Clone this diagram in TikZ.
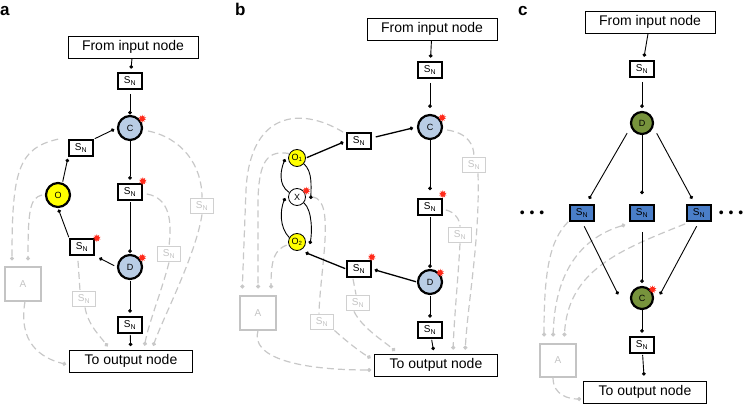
\documentclass[tikz,border=0pt]{standalone}
\usepackage{fontspec}
\setmainfont{Liberation Sans}
\usetikzlibrary{arrows.meta,shapes.geometric}
\definecolor{cellblue}{HTML}{B9CDE5}
\definecolor{cellyellow}{HTML}{FFFF00}
\definecolor{cellgreen}{HTML}{77933C}
\definecolor{snblue}{HTML}{4A7EC8}
\definecolor{dashgrey}{HTML}{C8C8C8}
\definecolor{boxgrey}{HTML}{C4C4C4}
\definecolor{burstred}{HTML}{FF2A1A}
\tikzset{
  lbl/.style={anchor=base west, inner sep=0pt, font=\fontsize{17}{19}\selectfont\bfseries},
  iobox/.style={draw, line width=0.8pt, fill=white, minimum width=130pt, minimum height=22pt, inner sep=0pt, font=\fontsize{14}{16}\selectfont},
  snbox/.style={draw, line width=2.2pt, fill=white, minimum width=23.5pt, minimum height=15.5pt, inner sep=0pt, font=\fontsize{10}{12}\selectfont},
  snfill/.style={snbox, fill=snblue},
  sngrey/.style={snbox, draw=boxgrey!80, line width=1.4pt, text=boxgrey},
  abox/.style={draw=boxgrey, line width=2pt, minimum width=36pt, minimum height=33pt, inner sep=0pt, text=boxgrey, font=\fontsize{10}{12}\selectfont},
  cell/.style={circle, draw, line width=2.2pt, minimum size=24pt, inner sep=0pt, font=\fontsize{9}{11}\selectfont},
  smallcell/.style={circle, draw, line width=0.8pt, minimum size=17pt, inner sep=0pt, font=\fontsize{9}{11}\selectfont},
  burst/.style={star, star points=10, star point ratio=1.9, fill=burstred, minimum size=8pt, inner sep=0pt},
  conn/.style={-{Circle[length=3.6pt]}, line width=0.9pt, shorten >=3.5pt, shorten <=1pt},
  gline/.style={draw=dashgrey, line width=1.2pt, dash pattern=on 7pt off 4pt},
  gconn/.style={gline, -{Circle[length=4pt]}, shorten >=4pt},
}
\newcommand{\sn}{S\textsubscript{N}}
\begin{document}
\begin{tikzpicture}[x=1pt,y=-1pt]
\useasboundingbox (0,0) rectangle (746,411);

%% panel a
\node[lbl] at (0,16) {a};
\node[iobox] (ina) at (133,47) {From input node};
\node[snbox] (sa1) at (130,81) {\sn};
\node[cell, fill=cellblue] (ca) at (130,128) {C};
\node[snbox] (sa2) at (81,148) {\sn};
\node[cell, fill=cellyellow] (oa) at (58,195) {O};
\node[snbox] (sa4) at (130,192) {\sn};
\node[snbox] (sa3) at (82,247) {\sn};
\node[cell, fill=cellblue] (da) at (130,267) {D};
\node[snbox] (sa5) at (130,325) {\sn};
\node[iobox, minimum width=123pt] (outa) at (131,361) {To output node};
\node[abox] (aa) at (23,284) {A};
\node[sngrey] (ga1) at (202,206) {\sn};
\node[sngrey] (ga2) at (169,254) {\sn};
\node[sngrey] (ga3) at (84,299) {\sn};
%% a: grey links
\draw[gline] ([shift={(5pt,-3pt)}]ca.east) .. controls (182,138) and (202,165) .. (ga1.north);
\draw[gconn] (ga1.south) .. controls (196,255) and (162,320) .. ([xshift=21pt]outa.north);
\draw[gline] ([shift={(4pt,-2pt)}]sa4.east) .. controls (170,198) and (172,222) .. (ga2.north);
\draw[gconn] (ga2.south) .. controls (162,290) and (148,325) .. ([xshift=13pt]outa.north);
\draw[gconn, shorten >=6pt] ([xshift=-10pt]sa2.north west) .. controls (18,148) and (12,172) .. ([xshift=-11pt]aa.north);
\draw[gconn, shorten >=6pt] ([xshift=-3pt]oa.west) .. controls (30,198) and (28,210) .. ([xshift=5pt]aa.north);
\draw[gline] ([xshift=-4pt,yshift=-5pt]sa3.south) -- ([xshift=-4pt]ga3.north);
\draw[gconn] ([xshift=1pt]ga3.south) .. controls (88,325) and (100,336) .. ([xshift=-21pt]outa.north);
\draw[gconn, shorten >=3pt] ([xshift=2pt]aa.south) .. controls (18,342) and (40,358) .. ([yshift=-4pt]outa.west);
%% a: links
\draw[conn, shorten <=0pt] (ina) -- (sa1);
\draw[conn, shorten >=0.5pt, shorten <=4pt] (sa1) -- (ca);
\draw[conn, shorten >=3pt] (sa2.north east) -- (ca.west);
\draw[conn, shorten >=2pt] (oa.70) -- (sa2.south west);
\draw[conn, shorten >=1.5pt] (sa3.north west) -- (oa.south);
\draw[conn, shorten >=5pt, shorten <=3pt] (da.west) -- (sa3.south east);
\draw[conn, shorten <=0pt] (ca) -- (sa4);
\draw[conn, shorten >=1pt] (sa4) -- (da);
\draw[conn] (da) -- (sa5);
\draw[conn] (sa5) -- (outa);
\node[burst] at ([xshift=3pt]ca.north east) {};
\node[burst] at ([yshift=2pt]sa4.north east) {};
\node[burst] at ([xshift=2pt]sa3.north east) {};
\node[burst] at ([xshift=3pt]da.north east) {};

%% panel b
\node[lbl] at (235,16) {b};
\node[iobox] (inb) at (432,29) {From input node};
\node[snbox] (sb1) at (430,70) {\sn};
\node[cell, fill=cellblue] (cb) at (430,127) {C};
\node[snbox] (sb2) at (359,141) {\sn};
\node[smallcell, fill=cellyellow] (o1) at (297,158) {O\textsubscript{1}};
\node[smallcell, fill=white] (xb) at (297,197) {X};
\node[smallcell, fill=cellyellow] (o2) at (297,242) {O\textsubscript{2}};
\node[snbox] (sb4) at (430,207) {\sn};
\node[snbox] (sb3) at (359,269) {\sn};
\node[cell, fill=cellblue] (db) at (430,282) {D};
\node[snbox] (sb5) at (430,330) {\sn};
\node[iobox, minimum width=123pt] (outb) at (436,365) {To output node};
\node[abox] (ab) at (258,313) {A};
\node[sngrey] (gb1) at (474,165) {\sn};
\node[sngrey] (gb2) at (460,235) {\sn};
\node[sngrey] (gb3) at (358,303) {\sn};
\node[sngrey] (gb4) at (322,322) {\sn};
%% b: grey links
\draw[gline] ([shift={(4pt,-3pt)}]cb.east) .. controls (468,133) and (474,145) .. (gb1.north);
\draw[gconn] ([xshift=4pt]gb1.south) .. controls (480,240) and (468,300) .. ([xshift=29pt]outb.north);
\draw[gline] ([shift={(3pt,-3pt)}]sb4.east) .. controls (455,212) and (460,220) .. (gb2.north);
\draw[gconn] (gb2.south) .. controls (458,280) and (454,320) .. ([xshift=17pt]outb.north);
\draw[gline] ([xshift=7pt]xb.east) .. controls (336,200) and (320,270) .. ([xshift=-3pt]gb4.north);
\draw[gconn] (gb4.south east) .. controls (345,340) and (360,352) .. ([yshift=5pt]outb.west);
\draw[gline] ([xshift=-6pt,yshift=-1pt]sb3.south) -- ([xshift=-2pt]gb3.north);
\draw[gconn] ([xshift=-4pt]gb3.south) .. controls (362,328) and (385,342) .. ([xshift=-38pt]outb.north);
\draw[gconn, shorten >=3pt] (ab.south) .. controls (250,358) and (300,370) .. ([yshift=-5pt]outb.west);
\draw[gconn, shorten >=7pt] ([xshift=-3pt]sb2.north west) .. controls (300,106) and (250,112) .. (246,190) -- ([xshift=-16pt]ab.north);
\draw[gconn, shorten >=7pt] (o1.150) .. controls (268,150) and (259,160) .. (258,200) -- (ab.north);
\draw[gconn, shorten >=7pt] ([xshift=-2pt]o2.200) .. controls (275,250) and (271,258) .. ([xshift=13pt]ab.north);
%% b: links
\draw[conn, shorten <=0pt] (inb) -- (sb1);
\draw[conn, shorten >=6pt, shorten <=4pt] (sb1) -- (cb);
\draw[conn, line width=1.3pt, shorten >=4pt, shorten <=4pt] (sb2) -- (cb.west);
\draw[conn, line width=1.3pt, shorten >=3pt] (o1.east) -- (sb2.west);
\draw[conn, shorten >=0pt, shorten <=0pt] (xb.150) .. controls +(-12,-8) and +(-4,10) .. ([shift={(-3pt,-1pt)}]o1.west);
\draw[conn, shorten >=0pt, shorten <=0pt] (o1.-40) .. controls +(9,8) and +(0,-12) .. ([shift={(5pt,-2pt)}]xb.east);
\draw[conn, shorten >=0pt, shorten <=0pt] (o2.150) .. controls +(-10,-10) and +(-5,12) .. ([shift={(-3pt,-1pt)}]xb.west);
\draw[conn, shorten >=0pt, shorten <=0pt] (xb.-40) .. controls +(9,8) and +(2,-10) .. ([shift={(4pt,-2pt)}]o2.east);
\draw[conn, line width=1.3pt, shorten >=3pt] (db.west) -- (sb3.east);
\draw[conn, line width=1.3pt, shorten >=6pt] (sb3.west) -- (o2.-70);
\draw[conn, shorten <=0pt, shorten >=8pt] (cb) -- (sb4);
\draw[conn, shorten >=1pt] (sb4) -- (db);
\draw[conn] (db) -- (sb5);
\draw[conn] (sb5) -- (outb);
\node[burst] at ([xshift=3pt]cb.north east) {};
\node[burst] at ([yshift=4pt]sb4.north east) {};
\node[burst] at ([yshift=3pt]sb3.north east) {};
\node[burst] at ([xshift=1pt]db.north east) {};
\node[burst] at ([xshift=3pt]xb.north east) {};

%% panel c
\node[lbl] at (518,16) {c};
\node[iobox] (inc) at (650,22) {From input node};
\node[snbox] (sc1) at (642,69) {\sn};
\node[cell, fill=cellgreen, minimum size=22pt] (dc) at (642,123) {D};
\node[snfill] (sl) at (582,213) {\sn};
\node[snfill] (sm) at (642,213) {\sn};
\node[snfill] (sr) at (699,213) {\sn};
\node[inner sep=0pt, font=\fontsize{14}{16}\selectfont] (dotl) at (532,214) {\textbullet\hspace{4.9pt}\textbullet\hspace{4.9pt}\textbullet};
\node[inner sep=0pt, font=\fontsize{14}{16}\selectfont] (dotr) at (731,214) {\textbullet\hspace{4.9pt}\textbullet\hspace{4.9pt}\textbullet};
\node[cell, fill=cellgreen, minimum size=22pt] (cc) at (642,298) {C};
\node[snbox] (sc2) at (642,345) {\sn};
\node[iobox, minimum width=123pt] (outc) at (645,392) {To output node};
\node[abox] (ac) at (558,360) {A};
%% c: grey links
\draw[gconn, shorten >=6pt] ([xshift=-1pt]sl.south west) .. controls (550,240) and (544,270) .. ([xshift=-14pt]ac.north);
\draw[gconn, {Circle[length=4pt]}-{Circle[length=4pt]}, shorten >=6pt] ([shift={(-4pt,-3pt)}]sm.south west) .. controls (590,235) and (555,262) .. ([xshift=-5pt]ac.north);
\draw[gconn, shorten >=6pt] ([shift={(-1pt,-2pt)}]sr.south west) .. controls (620,250) and (568,270) .. ([xshift=6pt]ac.north);
\draw[gconn, shorten >=2pt] ([xshift=-5pt]ac.south) .. controls (553,396) and (570,399) .. ([yshift=-7pt]outc.west);
%% c: links
\draw[conn, shorten <=0pt] (inc) -- (sc1);
\draw[conn, shorten >=3pt, shorten <=4pt] (sc1) -- (dc);
\draw[conn, shorten <=7pt, shorten >=6pt] (dc.200) -- ([xshift=4pt]sl.north);
\draw[conn, shorten <=0pt, shorten >=10pt] (dc) -- (sm);
\draw[conn, shorten <=7pt, shorten >=6pt] (dc.-20) -- ([xshift=-4pt]sr.north);
\draw[conn, shorten <=5pt, shorten >=4pt] (sl.south) -- ([xshift=-10pt]cc.west);
\draw[conn, shorten <=10pt, shorten >=3pt] (sm) -- (cc);
\draw[conn, shorten <=5pt, shorten >=4pt] (sr.south) -- ([xshift=4pt]cc.east);
\draw[conn, shorten <=0pt] (cc) -- (sc2);
\draw[conn, shorten >=5pt] (sc2) -- (outc);
\node[burst] at ([xshift=2pt]cc.north east) {};
\end{tikzpicture}
\end{document}
